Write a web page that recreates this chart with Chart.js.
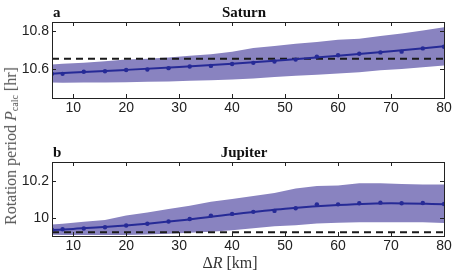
<!DOCTYPE html>
<html>
<head>
<meta charset="utf-8">
<script src="https://cdn.jsdelivr.net/npm/chart.js@4/dist/chart.umd.min.js"></script>
<style>
  body { margin: 0; background: #fff; }
  #wrap { position: relative; width: 462px; height: 275px; overflow: hidden; }
  canvas { position: absolute; left: 0; }
  #ylab {
    position: absolute; left: 11px; top: 146px;
    transform: translate(-50%, -50%) rotate(-90deg);
    white-space: nowrap; font: 16px "Liberation Serif", serif; color: #555;
  }
  #ylab sub { font-size: 10px; vertical-align: -2px; }
</style>
</head>
<body>
<div id="wrap">
  <canvas id="satCanvas" width="462" height="120" style="top:0"></canvas>
  <canvas id="jupCanvas" width="462" height="138" style="top:137px"></canvas>
  <div id="ylab">Rotation period <i>P</i><sub>calc</sub> [hr]</div>
</div>
<script>
// Delta R (km) sampled in both panels
const deltaR = [6, 8, 12, 16, 20, 24, 28, 32, 36, 40, 44, 48, 52, 56, 60, 64, 68, 72, 76, 80];
const fitR = [6, 10, 20, 30, 40, 50, 60, 70, 80];
const xTicks = [10, 20, 30, 40, 50, 60, 70, 80];

// Saturn (hr)
const satMean = [10.577, 10.577, 10.588, 10.591, 10.597, 10.600, 10.607, 10.616, 10.619, 10.629,
                 10.635, 10.642, 10.652, 10.668, 10.675, 10.683, 10.690, 10.694, 10.711, 10.720];
const satUpper = [10.626, 10.630, 10.636, 10.643, 10.652, 10.657, 10.663, 10.672, 10.680, 10.694,
                  10.713, 10.724, 10.735, 10.745, 10.756, 10.762, 10.776, 10.789, 10.805, 10.823];
const satLower = [10.532, 10.530, 10.531, 10.532, 10.533, 10.535, 10.537, 10.541, 10.543, 10.548,
                  10.552, 10.560, 10.567, 10.572, 10.579, 10.586, 10.596, 10.602, 10.612, 10.621];
const satFit = [10.578, 10.584, 10.598, 10.613, 10.630, 10.650, 10.672, 10.696, 10.722];
const satRef = 10.656;
const satTicks = [10.6, 10.8];

// Jupiter (hr)
const jupMean = [9.938, 9.941, 9.945, 9.952, 9.961, 9.970, 9.982, 9.996, 10.014, 10.023,
                 10.034, 10.039, 10.053, 10.074, 10.074, 10.080, 10.083, 10.080, 10.081, 10.076];
const jupUpper = [9.966, 9.971, 9.981, 9.991, 10.014, 10.030, 10.049, 10.067, 10.088, 10.103,
                  10.119, 10.134, 10.158, 10.172, 10.174, 10.186, 10.187, 10.183, 10.180, 10.180];
const jupLower = [9.912, 9.911, 9.910, 9.910, 9.911, 9.913, 9.917, 9.922, 9.928, 9.936,
                  9.947, 9.957, 9.962, 9.972, 9.976, 9.978, 9.979, 9.979, 9.978, 9.975];
const jupFit = [9.937, 9.943, 9.961, 9.988, 10.021, 10.050, 10.070, 10.080, 10.075];
const jupRef = 9.925;
const jupTicks = [10, 10.2];

const bandColor = 'rgb(137,131,192)';
const lineColor = 'rgb(38,42,150)';
const tickFont = { family: 'Liberation Sans', size: 14 };

const pts = (xs, ys) => xs.map((x, i) => ({ x: x, y: ys[i] }));

// box with inward ticks on all four sides, plus panel letter and title
const frame = {
  id: 'frame',
  afterDatasetsDraw(chart, args, opts) {
    const ctx = chart.ctx, a = chart.chartArea;
    const xs = chart.scales.x, ys = chart.scales.y;
    ctx.save();
    ctx.strokeStyle = '#222';
    ctx.lineWidth = 1;
    ctx.beginPath();
    xs.ticks.forEach(t => {
      const p = Math.round(xs.getPixelForValue(t.value)) + 0.5;
      ctx.moveTo(p, a.bottom); ctx.lineTo(p, a.bottom - 4);
      ctx.moveTo(p, a.top); ctx.lineTo(p, a.top + 4);
    });
    ys.ticks.forEach(t => {
      const p = Math.round(ys.getPixelForValue(t.value)) + 0.5;
      ctx.moveTo(a.left, p); ctx.lineTo(a.left + 4, p);
      ctx.moveTo(a.right, p); ctx.lineTo(a.right - 4, p);
    });
    ctx.stroke();
    ctx.strokeRect(Math.round(a.left) + 0.5, Math.round(a.top) + 0.5,
                   Math.round(a.right - a.left), Math.round(a.bottom - a.top));
    ctx.fillStyle = '#111';
    ctx.textBaseline = 'middle';
    ctx.font = 'bold 15px "Liberation Serif"';
    ctx.textAlign = 'left';
    ctx.fillText(opts.letter, a.left + 1, a.top - 9);
    ctx.textAlign = 'center';
    ctx.fillText(opts.title, 244, a.top - 9);
    if (opts.xTitle) {
      const y = chart.height - 11;
      ctx.font = '16px "Liberation Serif"';
      ctx.fillStyle = '#333';
      ctx.textAlign = 'left';
      const w1 = ctx.measureText('\u0394').width;
      ctx.font = 'italic 16px "Liberation Serif"';
      const w2 = ctx.measureText('R').width;
      ctx.font = '16px "Liberation Serif"';
      const w3 = ctx.measureText(' [km]').width;
      let x = 230 - (w1 + w2 + w3) / 2;
      ctx.fillText('\u0394', x, y); x += w1;
      ctx.font = 'italic 16px "Liberation Serif"';
      ctx.fillText('R', x, y); x += w2;
      ctx.font = '16px "Liberation Serif"';
      ctx.fillText(' [km]', x, y);
    }
    ctx.restore();
  }
};

function makePanel(id, mean, upper, lower, fit, ref, yTicks, yMin, yMax, padTop, xHeight, text) {
  return new Chart(document.getElementById(id), {
    type: 'line',
    data: {
      datasets: [
        { data: pts(deltaR, mean), showLine: false, pointRadius: 2.2, pointBackgroundColor: lineColor,
          pointBorderWidth: 0 },
        { data: pts(fitR, fit), borderColor: lineColor, borderWidth: 2, pointRadius: 0,
          cubicInterpolationMode: 'monotone' },
        { data: pts([deltaR[0], deltaR[deltaR.length - 1]], [ref, ref]), borderColor: '#1a1a1a',
          borderWidth: 2, borderDash: [7, 5], pointRadius: 0 },
        { data: pts(deltaR, upper), borderWidth: 0, pointRadius: 0, fill: false },
        { data: pts(deltaR, lower), borderWidth: 0, pointRadius: 0, fill: '-1', backgroundColor: bandColor }
      ]
    },
    options: {
      responsive: false,
      animation: false,
      devicePixelRatio: 1,
      layout: { padding: { top: padTop, right: 18, left: 0, bottom: 0 } },
      plugins: { legend: { display: false }, tooltip: { enabled: false }, frame: text },
      scales: {
        x: {
          type: 'linear', min: deltaR[0], max: deltaR[deltaR.length - 1],
          grid: { display: false, drawTicks: false }, border: { display: false },
          afterBuildTicks: s => { s.ticks = xTicks.map(v => ({ value: v })); },
          afterFit: s => { s.height = xHeight; },
          ticks: { font: tickFont, color: '#222', padding: 2, maxRotation: 0 }
        },
        y: {
          min: yMin, max: yMax,
          grid: { display: false, drawTicks: false }, border: { display: false },
          afterBuildTicks: s => { s.ticks = yTicks.map(v => ({ value: v })); },
          afterFit: s => { s.width = 52; },
          ticks: { font: tickFont, color: '#222', padding: 3, callback: v => String(v) }
        }
      }
    },
    plugins: [frame]
  });
}

makePanel('satCanvas', satMean, satUpper, satLower, satFit, satRef, satTicks, 10.45, 10.85, 22, 22,
  { letter: 'a', title: 'Saturn' });
makePanel('jupCanvas', jupMean, jupUpper, jupLower, jupFit, jupRef, jupTicks, 9.905, 10.3, 25, 39,
  { letter: 'b', title: 'Jupiter', xTitle: true });
</script>
</body>
</html>
